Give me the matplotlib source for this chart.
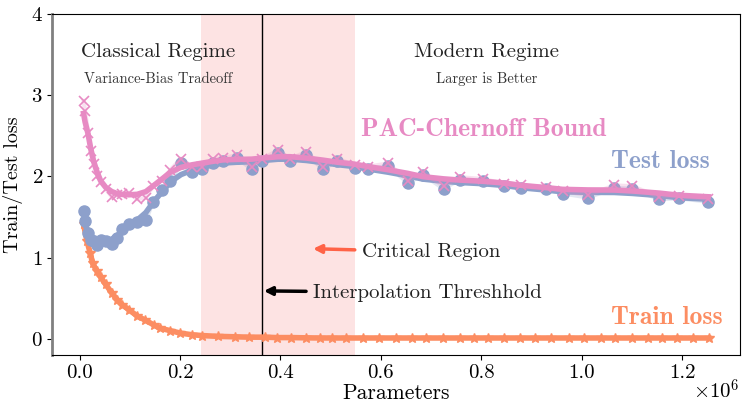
import numpy as np
import matplotlib
matplotlib.use("Agg")
import matplotlib.pyplot as plt
from matplotlib.ticker import FuncFormatter

plt.rcParams["font.family"] = "serif"
plt.rcParams["font.serif"] = ["cmr10"]
plt.rcParams["mathtext.fontset"] = "cm"
plt.rcParams["axes.unicode_minus"] = False
plt.rcParams["axes.formatter.use_mathtext"] = True

# model sizes (in units of 1e6 parameters)
params = [0.008, 0.011, 0.017, 0.022, 0.028, 0.035, 0.042, 0.052, 0.064, 0.075,
          0.085, 0.098, 0.115, 0.132, 0.146, 0.164, 0.181, 0.202, 0.224, 0.244,
          0.266, 0.286, 0.313, 0.343, 0.364, 0.395, 0.419, 0.452, 0.485, 0.513,
          0.548, 0.574, 0.614, 0.654, 0.684, 0.725, 0.757, 0.803, 0.846, 0.880,
          0.930, 0.962, 1.013, 1.065, 1.101, 1.154, 1.194, 1.252]

test_loss = [1.57, 1.45, 1.30, 1.22, 1.20, 1.16, 1.22, 1.20, 1.17, 1.24,
             1.35, 1.41, 1.44, 1.46, 1.68, 1.83, 1.94, 2.16, 2.05, 2.09,
             2.16, 2.19, 2.23, 2.09, 2.19, 2.29, 2.19, 2.27, 2.09, 2.19,
             2.11, 2.09, 2.13, 1.92, 2.02, 1.85, 1.96, 1.94, 1.88, 1.86,
             1.84, 1.79, 1.74, 1.86, 1.85, 1.72, 1.73, 1.69]

pac_bound = [2.93, 2.81, 2.54, 2.31, 2.15, 2.01, 1.93, 1.85, 1.75, 1.77,
             1.79, 1.80, 1.72, 1.74, 1.88, 1.95, 2.08, 2.22, 2.12, 2.12,
             2.21, 2.23, 2.26, 2.12, 2.22, 2.32, 2.22, 2.30, 2.12, 2.22,
             2.14, 2.12, 2.16, 1.95, 2.05, 1.88, 1.99, 1.97, 1.91, 1.89,
             1.87, 1.82, 1.77, 1.89, 1.88, 1.75, 1.76, 1.72]

train_params = [0.008, 0.015, 0.021, 0.026, 0.035, 0.042, 0.052, 0.065, 0.075, 0.085,
                0.098, 0.115, 0.131, 0.148, 0.161, 0.181, 0.201, 0.224, 0.244, 0.276,
                0.309, 0.338, 0.370, 0.393, 0.422, 0.451, 0.479, 0.503, 0.531, 0.564,
                0.596, 0.630, 0.662, 0.690, 0.723, 0.757, 0.785, 0.813, 0.846, 0.878,
                0.907, 0.940, 0.974, 1.005, 1.039, 1.067, 1.100, 1.133, 1.160, 1.190,
                1.222, 1.253]

train_loss = [1.41, 1.20, 1.06, 0.93, 0.83, 0.76, 0.67, 0.56, 0.48, 0.42,
              0.36, 0.28, 0.23, 0.17, 0.13, 0.10, 0.07, 0.05, 0.04, 0.03,
              0.025, 0.02, 0.02, 0.015, 0.015, 0.012, 0.01, 0.01, 0.01, 0.01,
              0.01, 0.01, 0.01, 0.01, 0.01, 0.01, 0.01, 0.01, 0.01, 0.01,
              0.01, 0.01, 0.01, 0.01, 0.01, 0.01, 0.01, 0.01, 0.01, 0.01,
              0.01, 0.01]

critical_start = 0.2424e6
critical_end = 0.548e6
threshold = 0.3636e6

c_train = "#fc8d62"
c_test = "#8da0cb"
c_pac = "#e78ac3"


def smooth(y, sigma=1.5):
    # gaussian weighted moving average over neighbouring runs
    y = np.asarray(y, dtype=float)
    idx = np.arange(len(y))
    w = np.exp(-0.5 * ((idx[:, None] - idx[None, :]) / sigma) ** 2)
    return (w @ y) / w.sum(axis=1)


x = np.array(params) * 1e6
xt = np.array(train_params) * 1e6

fig = plt.figure(figsize=(7.42, 4.03), dpi=100)
ax = fig.add_axes([0.070, 0.119, 0.927, 0.846])

ax.axvspan(critical_start, critical_end, color="#fde3e3", lw=0, zorder=0)
ax.axvline(threshold, color="black", lw=1, zorder=1)

# train
ax.plot(xt, train_loss, color=c_train, lw=4, zorder=2)
ax.plot(xt, train_loss, ls="none", marker="*", ms=7.5, color=c_train, zorder=3)

# test
ax.plot(x, test_loss, color=c_test, lw=3, alpha=0.25, zorder=2)
ax.plot(x, test_loss, ls="none", marker="o", ms=8, color=c_test, zorder=3)
ax.plot(x, smooth(test_loss), color=c_test, lw=4, zorder=4)

# PAC-Chernoff
ax.plot(x, pac_bound, color=c_pac, lw=3, alpha=0.25, zorder=5)
ax.plot(x, pac_bound, ls="none", marker="x", ms=7, mew=1.2, color=c_pac, zorder=5)
ax.plot(x, smooth(pac_bound), color=c_pac, lw=4, zorder=6)

ax.set_xlim(-0.055e6, 1.315e6)
ax.set_ylim(-0.2, 4)
ax.set_yticks([0, 1, 2, 3, 4])
ax.xaxis.set_major_formatter(FuncFormatter(lambda v, pos: "%.1f" % (v / 1e6)))
ax.tick_params(labelsize=15, pad=3)
ax.text(1.0, -0.068, r"$\times10^{6}$", transform=ax.transAxes, fontsize=15,
        ha="right", va="top")
ax.set_xlabel("Parameters", fontsize=15.5, labelpad=1)
ax.set_ylabel("Train/Test loss", fontsize=14.5, labelpad=6)
ax.spines["left"].set_color("grey")
ax.spines["left"].set_linewidth(2)

ax.text(0.157e6, 3.53, "Classical Regime", fontsize=15, ha="center", va="center", color="#222222")
ax.text(0.157e6, 3.2, "Variance-Bias Tradeoff", fontsize=10.5, ha="center", va="center", color="#333333")
ax.text(0.811e6, 3.53, "Modern Regime", fontsize=15, ha="center", va="center", color="#222222")
ax.text(0.811e6, 3.2, "Larger is Better", fontsize=10.5, ha="center", va="center", color="#333333")

ax.text(0.805e6, 2.58, "PAC-Chernoff Bound", fontsize=18.5, family="cmb10", ha="center", va="center", color=c_pac)
ax.text(1.156e6, 2.19, "Test loss", fontsize=18.5, family="cmb10", ha="center", va="center", color=c_test)
ax.text(1.170e6, 0.26, "Train loss", fontsize=18.5, family="cmb10", ha="center", va="center", color=c_train)

ax.annotate("Critical Region", xy=(0.465e6, 1.11), xytext=(0.562e6, 1.07),
            fontsize=15, ha="left", va="center", color="#222222",
            arrowprops=dict(arrowstyle="-|>", color="tomato", lw=2.5, mutation_scale=12,
                            shrinkA=3, shrinkB=0))
ax.annotate("Interpolation Threshhold", xy=(0.367e6, 0.59), xytext=(0.465e6, 0.57),
            fontsize=15, ha="left", va="center", color="#222222",
            arrowprops=dict(arrowstyle="-|>", color="black", lw=2.5, mutation_scale=12,
                            shrinkA=3, shrinkB=0))

fig.savefig("out.png", dpi=100)
